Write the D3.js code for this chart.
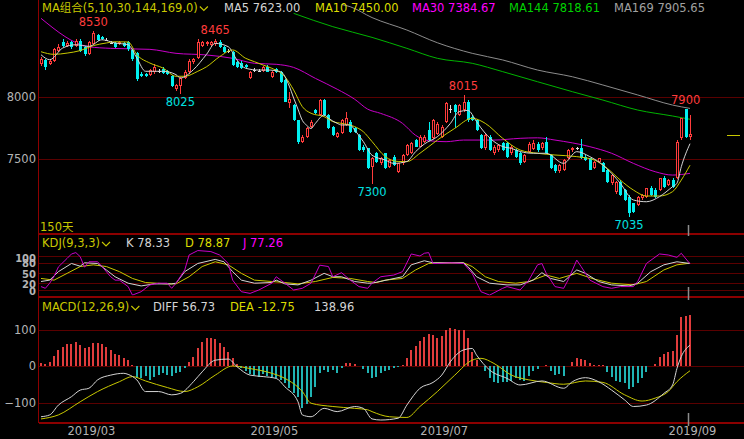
<!DOCTYPE html>
<html>
<head>
<meta charset="utf-8">
<script src="https://cdn.jsdelivr.net/npm/d3@7"></script>
<style>
  html, body { margin: 0; padding: 0; background: #000; }
  svg { display: block; }
</style>
</head>
<body>
<div id="chart"></div>
<script>
// ---------- data (150 daily bars) ----------
const opens = [8265,8295,8265,8285,8365,8440,8410,8440,8405,8450,8400,8340,8425,8492,8480,8458,8430,8430,8420,8432,
  8438,8375,8350,8185,8180,8178,8195,8208,8225,8208,8170,8060,8085,8150,8195,8280,8310,8405,8420,8415,
  8420,8440,8400,8368,8360,8280,8270,8255,8150,8212,8210,8210,8240,8160,8225,8200,8135,7947,7933,7813,
  7640,7680,7760,7893,7853,7973,7853,7760,7680,7706,7773,7800,7746,7693,7600,7586,7438,7545,7465,7545,
  7438,7518,7398,7465,7532,7545,7652,7600,7639,7733,7666,7700,7679,7800,7900,7933,7853,7890,7960,7840,
  7813,7693,7585,7680,7545,7572,7625,7625,7545,7572,7545,7479,7560,7580,7620,7585,7640,7530,7452,7400,
  7412,7505,7572,7586,7585,7519,7505,7425,7479,7465,7412,7305,7238,7318,7251,7198,7144,7131,7184,7198,
  7264,7251,7251,7345,7291,7331,7345,7666,7899,7675];
const highs = [8320,8300,8300,8390,8420,8465,8445,8450,8460,8460,8405,8450,8530,8500,8490,8470,8445,8440,8445,8440,
  8445,8380,8355,8200,8190,8225,8260,8225,8235,8215,8175,8100,8160,8215,8300,8310,8460,8450,8445,8450,
  8465,8455,8410,8385,8365,8290,8285,8265,8205,8230,8225,8250,8255,8210,8230,8210,8140,8040,7940,7815,
  7690,7760,7810,7905,7980,7985,7860,7765,7715,7820,7880,7810,7760,7700,7610,7590,7520,7555,7520,7550,
  7500,7530,7470,7540,7620,7635,7660,7690,7690,7800,7820,7800,7770,7955,7930,7945,7940,8015,7970,7850,
  7820,7700,7700,7690,7610,7620,7635,7640,7610,7580,7555,7540,7640,7650,7640,7640,7680,7540,7460,7460,
  7500,7580,7600,7600,7660,7530,7510,7485,7510,7475,7420,7380,7320,7330,7260,7210,7150,7205,7220,7270,
  7280,7270,7350,7360,7340,7345,7650,7830,7900,7850];
const lows = [8250,8215,8255,8280,8360,8400,8400,8385,8395,8360,8330,8335,8420,8445,8455,8445,8420,8390,8415,8400,
  8370,8290,8130,8160,8160,8170,8185,8190,8185,8175,8080,8045,8025,8140,8185,8260,8300,8395,8410,8410,
  8410,8390,8350,8350,8250,8230,8220,8230,8140,8200,8200,8200,8195,8150,8190,8110,7955,7907,7805,7620,
  7625,7670,7750,7860,7845,7845,7740,7685,7670,7700,7765,7710,7710,7565,7560,7420,7300,7465,7455,7420,
  7430,7440,7390,7455,7525,7540,7595,7595,7630,7645,7660,7690,7670,7790,7870,7750,7845,7880,7800,7805,
  7725,7580,7575,7565,7535,7560,7565,7510,7535,7510,7455,7470,7550,7570,7560,7575,7540,7420,7390,7390,
  7400,7500,7560,7570,7500,7485,7410,7420,7470,7395,7310,7290,7220,7200,7160,7035,7070,7120,7170,7190,
  7200,7190,7240,7270,7285,7270,7340,7650,7670,7650];
const closes = [8305,8240,8290,8380,8400,8405,8430,8395,8445,8370,8340,8440,8510,8455,8460,8458,8430,8398,8435,8405,
  8380,8300,8140,8168,8165,8215,8240,8208,8192,8180,8085,8095,8150,8200,8290,8300,8440,8440,8435,8440,
  8450,8400,8360,8368,8255,8240,8230,8240,8200,8212,8210,8235,8200,8200,8200,8120,7960,7980,7813,7640,
  7680,7745,7800,7867,7973,7853,7746,7693,7706,7813,7826,7720,7720,7572,7572,7430,7505,7473,7505,7425,
  7490,7452,7465,7532,7612,7625,7600,7680,7679,7652,7813,7780,7760,7947,7900,7880,7933,7960,7813,7813,
  7733,7585,7693,7572,7600,7612,7572,7518,7600,7518,7465,7532,7620,7630,7572,7626,7546,7425,7400,7452,
  7492,7572,7586,7586,7505,7492,7412,7479,7505,7398,7318,7372,7318,7211,7171,7064,7077,7198,7211,7264,
  7211,7198,7345,7278,7331,7278,7640,7826,7679,7700];

// moving averages, [bar index, value]
const ma5 = [[0,8337],[2,8297],[5,8391],[8,8417],[11,8404],[14,8457],[17,8431],[20,8417],[22,8310],[24,8204],
  [26,8204],[28,8204],[31,8177],[32,8150],[35,8217],[38,8340],[40,8428],[43,8401],[45,8294],[47,8228],
  [50,8214],[52,8214],[55,8201],[57,8085],[58,7990],[59,7900],[60,7810],[61,7770],[62,7745],[63,7786],
  [65,7853],[66,7827],[68,7786],[69,7773],[71,7773],[72,7733],[74,7640],[76,7530],[79,7492],[81,7465],
  [84,7480],[86,7559],[88,7620],[91,7679],[94,7786],[96,7880],[98,7890],[100,7800],[101,7750],[104,7640],
  [106,7600],[108,7585],[110,7560],[113,7546],[116,7546],[120,7465],[123,7559],[126,7519],[129,7452],[133,7305],
  [136,7171],[139,7157],[142,7198],[145,7278],[146,7305],[147,7438],[149,7623]];
const ma10 = [[0,8361],[3,8340],[6,8350],[9,8370],[12,8410],[15,8431],[17,8441],[20,8439],[22,8337],[25,8270],
  [28,8230],[31,8164],[33,8164],[36,8204],[38,8240],[41,8321],[44,8375],[47,8308],[49,8281],[51,8254],
  [53,8228],[56,8161],[58,8054],[60,7920],[62,7867],[65,7840],[67,7800],[69,7786],[72,7760],[74,7719],
  [76,7640],[79,7520],[82,7480],[84,7479],[87,7546],[91,7652],[95,7746],[99,7827],[102,7786],[106,7666],
  [110,7572],[114,7546],[118,7532],[123,7519],[127,7492],[130,7425],[133,7331],[136,7251],[139,7203],[142,7203],
  [145,7238],[147,7331],[149,7450]];
const ma30 = [[0,8629],[11,8401],[16,8388],[25,8380],[31,8348],[38,8335],[44,8308],[49,8268],[54,8260],[58,8235],
  [63,8147],[68,8060],[72,7980],[75,7900],[78,7866],[83,7786],[86,7690],[89,7647],[93,7639],[97,7652],
  [104,7652],[110,7666],[114,7670],[118,7652],[126,7599],[131,7546],[136,7465],[141,7398],[145,7371],[149,7385]];
const ma144 = [[58,8669],[67,8562],[76,8476],[84,8388],[91,8308],[99,8268],[106,8201],[114,8120],[122,8040],
  [129,7973],[137,7893],[145,7845],[149,7819]];
const ma169 = [[69,8740],[71,8722],[76,8635],[84,8535],[91,8433],[99,8348],[106,8295],[114,8214],[122,8160],
  [129,8094],[137,8014],[145,7933],[149,7906]];

// KDJ(9,3,3)
const kLine = [[0,25],[2,29],[4,54],[7,78],[9,70],[10,80],[13,78],[15,59],[17,39],[20,20],[23,12],[26,18],[30,18],
  [31,20],[33,54],[36,78],[40,90],[42,83],[44,54],[46,29],[49,20],[53,22],[54,29],[56,18],[59,15],[62,29],
  [65,49],[67,39],[69,39],[72,25],[75,20],[76,20],[80,31],[83,39],[85,74],[88,86],[90,80],[97,80],[98,69],
  [100,39],[103,20],[107,15],[110,15],[113,29],[115,51],[117,34],[120,25],[123,59],[125,49],[128,25],[131,15],
  [135,12],[137,20],[140,54],[143,74],[146,83],[149,78]];
const dLine = [[0,34],[3,29],[6,49],[9,69],[12,74],[15,69],[18,54],[21,34],[24,22],[29,18],[31,18],[34,39],[37,69],
  [40,83],[43,74],[46,49],[49,29],[53,25],[56,22],[59,18],[63,25],[67,37],[71,34],[75,25],[77,22],[79,29],
  [83,34],[86,59],[89,78],[91,80],[97,80],[99,69],[102,39],[105,25],[109,20],[112,25],[116,44],[119,34],
  [123,49],[127,32],[131,20],[136,15],[139,25],[143,59],[146,74],[149,79]];
const jLine = [[0,10],[1,5],[2,20],[3,40],[4,68],[6,93],[7,106],[8,110],[9,98],[10,67],[11,83],[13,83],[14,69],
  [16,39],[17,29],[18,29],[20,10],[21,-15],[23,-5],[25,15],[27,20],[29,20],[30,5],[31,20],[33,59],[34,103],
  [36,116],[39,113],[41,103],[43,78],[44,29],[46,-5],[48,-10],[50,0],[53,20],[54,39],[56,20],[58,0],[60,5],
  [62,20],[64,73],[66,69],[67,39],[69,51],[71,29],[73,10],[75,5],[76,20],[78,39],[81,44],[83,54],[85,106],
  [87,100],[88,108],[89,110],[90,78],[91,78],[94,80],[97,78],[99,49],[101,-5],[103,-15],[106,5],[107,10],
  [110,0],[112,29],[114,74],[115,78],[116,49],[118,10],[120,5],[121,29],[123,88],[124,69],[126,29],[129,10],
  [131,5],[133,10],[136,10],[137,25],[139,78],[142,106],[144,103],[146,96],[147,108],[149,77]];

// MACD(12,26,9): histogram per bar, DIFF / DEA as [index, value]
const macdHist = [9,5,12,28,44,51,59,59,66,57,48,53,62,62,59,53,44,32,30,23,16,2,
  -32,-34,-28,-38,-29,-25,-20,-25,-27,-20,-16,-5,
  12,26,48,66,76,78,74,62,53,39,21,5,
  -5,-14,-23,-25,-29,-23,-27,-29,-34,-38,-47,-61,-75,-84,-116,-105,-84,-57,-20,-11,-16,-11,-20,-5,
  9,7,5,0,-8,-20,
  -34,-29,-20,-14,-11,-5,-2,
  3,23,44,55,69,80,89,85,78,83,100,105,101,98,98,78,39,16,0,
  -14,-34,-45,-47,-45,-45,-41,-34,-38,-41,-27,-14,-8,
  0,2,-14,-25,-23,-27,0,
  12,23,18,16,7,3,3,3,
  -17,-29,-41,-45,-47,-63,-57,-47,-34,-17,0,
  5,26,32,39,41,85,135,138,139];
const diffLine = [[0,-139],[2,-134],[4,-107],[7,-84],[9,-66],[11,-61],[13,-38],[16,-25],[19,-20],[20,-23],[22,-38],
  [24,-70],[27,-70],[30,-79],[32,-75],[35,-43],[37,-16],[40,16],[43,19],[45,-2],[48,-25],[51,-29],[54,-34],
  [56,-57],[59,-98],[60,-134],[62,-139],[65,-116],[68,-125],[72,-111],[74,-116],[76,-145],[78,-148],[82,-143],
  [84,-107],[87,-61],[90,-45],[92,-25],[94,12],[97,44],[99,48],[100,30],[103,-11],[107,-34],[110,-52],
  [115,-41],[120,-61],[122,-43],[125,-32],[128,-43],[131,-66],[134,-93],[136,-111],[139,-107],[143,-75],
  [145,-52],[146,-7],[147,26],[149,57]];
const deaLine = [[0,-145],[4,-134],[9,-98],[13,-70],[18,-43],[21,-29],[24,-41],[29,-59],[33,-70],[36,-57],[40,-25],
  [44,0],[48,-7],[53,-20],[56,-34],[60,-70],[62,-102],[67,-111],[72,-116],[75,-120],[76,-125],[80,-139],
  [84,-141],[87,-111],[91,-70],[95,-25],[99,16],[101,21],[104,7],[108,-25],[112,-38],[116,-45],[120,-50],
  [125,-41],[129,-45],[134,-79],[138,-96],[141,-88],[144,-70],[146,-43],[149,-13]];

// ticks / labels
const mainTicks = [7500, 8000];
const kdjTicks = [0, 20, 50, 80, 100];
const macdTicks = [-100, 0, 100];
const monthIdx = [11, 53, 92, 149];
const monthLabels = ["2019/03", "2019/05", "2019/07", "2019/09"];
const highMarks = [12, 40, 97, 148];   // bars whose high is labelled
const lowMarks = [32, 76, 135];        // bars whose low is labelled
const refPrice = 7692;                 // small yellow marker at the right edge

// ---------- layout ----------
const W = 744, H = 439;
const left = 39, right = 744;
const mainBottom = 233.5, kdjBottom = 296.5, macdBottom = 422.5;
const FONT = "'DejaVu Sans', 'Noto Sans CJK SC', sans-serif";
const RED = "#ff3c3c", CYAN = "#00f0f0", YEL = "#c8c800", LGRAY = "#d4d4d4", MAG = "#c800c8";

const svg = d3.select("#chart").append("svg")
    .attr("width", W).attr("height", H)
    .style("background", "#000")
    .attr("font-family", FONT);

const x = d3.scaleLinear().domain([0, closes.length - 1]).range([41, 690]);
const yMain = d3.scaleLinear().domain([7500, 8000]).range([159, 96.7]);
const yKdj = d3.scaleLinear().domain([0, 100]).range([290, 256]);
const yMacd = d3.scaleLinear().domain([-100, 100]).range([402.5, 329.5]);

// clip paths per panel
const defs = svg.append("defs");
function clip(id, y0, y1) {
    defs.append("clipPath").attr("id", id).append("rect")
        .attr("x", left).attr("y", y0).attr("width", right - left).attr("height", y1 - y0);
}
clip("cMain", 0, mainBottom - 1);
clip("cKdj", mainBottom + 1, kdjBottom - 1);
clip("cMacd", kdjBottom + 1, macdBottom - 1);

// grid + left labels through d3 axes
function gridAxis(scale, ticks, fontSize, fmt) {
    const g = svg.append("g")
        .attr("transform", `translate(${left},0)`)
        .call(d3.axisLeft(scale).tickValues(ticks).tickSize(-(right - left)).tickPadding(3).tickFormat(fmt || d3.format("d")));
    g.select(".domain").remove();
    g.selectAll(".tick line").attr("stroke", "#5a0000").attr("shape-rendering", "crispEdges");
    g.selectAll(".tick text").attr("fill", "#b4b4b4").attr("font-size", fontSize).attr("font-family", FONT);
    return g;
}
gridAxis(yMain, mainTicks, 11.5);
const kg = gridAxis(yKdj, kdjTicks, 10);
kg.selectAll(".tick text").attr("font-weight", "bold").attr("dy", (d) => d === 100 ? "0.55em" : "0.4em");
gridAxis(yMacd, macdTicks, 11.5);

// panel frame lines
const frame = svg.append("g").attr("stroke", "#8c0000").attr("shape-rendering", "crispEdges");
[mainBottom, kdjBottom, macdBottom].forEach((yy) => {
    frame.append("line").attr("x1", left).attr("x2", right).attr("y1", yy).attr("y2", yy).attr("stroke-width", 2);
});
frame.append("line").attr("x1", left - 0.5).attr("x2", left - 0.5).attr("y1", 0).attr("y2", macdBottom);

// ---------- main panel ----------
const mainG = svg.append("g").attr("clip-path", "url(#cMain)");

const lineGen = (yScale, curve) => d3.line()
    .x((d) => x(d[0]))
    .y((d) => yScale(d[1]))
    .curve(curve || d3.curveLinear);

const maStyles = [
    [ma169, "#8c8c8c", d3.curveMonotoneX],
    [ma144, "#00b400", d3.curveMonotoneX],
    [ma30, MAG, d3.curveMonotoneX],
];
maStyles.forEach(([data, color, curve]) => {
    mainG.append("path").datum(data)
        .attr("fill", "none").attr("stroke", color).attr("stroke-width", 1)
        .attr("d", lineGen(yMain, curve));
});

// candles
const bars = d3.range(closes.length).map((i) => ({ i, o: opens[i], h: highs[i], l: lows[i], c: closes[i] }));
const cg = mainG.append("g").attr("shape-rendering", "crispEdges");
const colorOf = (d) => d.c > d.o ? RED : (d.c < d.o ? CYAN : "#e0e0e0");

cg.selectAll(".wick").data(bars).join("line")
    .attr("x1", (d) => Math.round(x(d.i)) + 0.5)
    .attr("x2", (d) => Math.round(x(d.i)) + 0.5)
    .attr("y1", (d) => yMain(d.h))
    .attr("y2", (d) => yMain(d.l))
    .attr("stroke", colorOf);

// rising bars: hollow red
cg.selectAll(".up").data(bars.filter((d) => d.c > d.o)).join("rect")
    .attr("x", (d) => Math.round(x(d.i)) - 0.5)
    .attr("width", 2)
    .attr("y", (d) => Math.round(yMain(d.c)) + 0.5)
    .attr("height", (d) => Math.max(1, Math.round(yMain(d.o)) - Math.round(yMain(d.c)) - 1))
    .attr("fill", "#000").attr("stroke", RED);

// falling bars: filled cyan
cg.selectAll(".down").data(bars.filter((d) => d.c < d.o)).join("rect")
    .attr("x", (d) => Math.round(x(d.i)) - 1)
    .attr("width", 3)
    .attr("y", (d) => Math.round(yMain(d.o)))
    .attr("height", (d) => Math.max(1, Math.round(yMain(d.c)) - Math.round(yMain(d.o))))
    .attr("fill", CYAN);

// flat bars
cg.selectAll(".flat").data(bars.filter((d) => d.c === d.o)).join("rect")
    .attr("x", (d) => Math.round(x(d.i)) - 1)
    .attr("width", 3)
    .attr("y", (d) => Math.round(yMain(d.c)))
    .attr("height", 1)
    .attr("fill", "#e0e0e0");

// short averages on top of the candles
[[ma10, YEL], [ma5, LGRAY]].forEach(([data, color]) => {
    mainG.append("path").datum(data)
        .attr("fill", "none").attr("stroke", color).attr("stroke-width", 1)
        .attr("d", lineGen(yMain, d3.curveMonotoneX));
});

// high / low labels
const markG = svg.append("g").attr("font-size", 11.5).attr("text-anchor", "middle");
highMarks.forEach((i) => {
    markG.append("text").attr("x", x(i)).attr("y", yMain(highs[i]) - 5)
        .attr("fill", RED).text(highs[i]);
});
lowMarks.forEach((i) => {
    markG.append("text").attr("x", x(i)).attr("y", yMain(lows[i]) + 12.5)
        .attr("fill", "#00e0e0").text(lows[i]);
});

// right edge marker + cursor ticks at the last bar
svg.append("line")
    .attr("x1", 727).attr("x2", 740)
    .attr("y1", Math.round(yMain(refPrice)) + 0.5).attr("y2", Math.round(yMain(refPrice)) + 0.5)
    .attr("stroke", YEL);
const cx = Math.round(x(closes.length - 1)) - 1.5;
[[225, 236], [287, 300], [413, 426]].forEach(([a, b]) => {
    svg.append("line").attr("x1", cx).attr("x2", cx).attr("y1", a).attr("y2", b)
        .attr("stroke", "#8c8c8c").attr("stroke-width", 1.5);
});

// ---------- KDJ ----------
const kdjG = svg.append("g").attr("clip-path", "url(#cKdj)");
[[dLine, YEL], [kLine, LGRAY], [jLine, MAG]].forEach(([data, color]) => {
    kdjG.append("path").datum(data)
        .attr("fill", "none").attr("stroke", color).attr("stroke-width", 1)
        .attr("d", lineGen(yKdj));
});

// ---------- MACD ----------
const macdG = svg.append("g").attr("clip-path", "url(#cMacd)");
macdG.append("g").attr("shape-rendering", "crispEdges")
    .selectAll("rect").data(macdHist.map((v, i) => ({ i, v }))).join("rect")
    .attr("x", (d) => Math.round(x(d.i)) - 1)
    .attr("width", 2)
    .attr("y", (d) => Math.min(yMacd(0), yMacd(d.v)))
    .attr("height", (d) => Math.abs(yMacd(d.v) - yMacd(0)))
    .attr("fill", (d) => d.v >= 0 ? "#e03c3c" : "#20b4b4");
[[deaLine, YEL], [diffLine, LGRAY]].forEach(([data, color]) => {
    macdG.append("path").datum(data)
        .attr("fill", "none").attr("stroke", color).attr("stroke-width", 1)
        .attr("d", lineGen(yMacd, d3.curveMonotoneX));
});

// ---------- x axis (month labels) ----------
const xa = svg.append("g")
    .attr("transform", `translate(2,${macdBottom})`)
    .call(d3.axisBottom(x).tickValues(monthIdx).tickSize(0).tickPadding(4.5)
        .tickFormat((d, k) => monthLabels[k]));
xa.select(".domain").remove();
xa.selectAll("text").attr("fill", "#b4b4b4").attr("font-size", 11.5).attr("font-family", FONT);

// ---------- titles ----------
function chevron(g, xPos, yBase, color) {
    g.append("path")
        .attr("d", `M${xPos},${yBase - 5} L${xPos + 4},${yBase - 1} L${xPos + 8},${yBase - 5}`)
        .attr("fill", "none").attr("stroke", color).attr("stroke-width", 1.1);
}
function titleRow(yBase, items) {
    const g = svg.append("g").attr("font-size", 11.5);
    items.forEach(([tx, str, color, chev]) => {
        const t = g.append("text").attr("x", tx).attr("y", yBase).attr("fill", color).text(str);
        if (chev) chevron(g, tx + t.node().getComputedTextLength() + 2, yBase, color);
    });
}
titleRow(11.5, [
    [42, "MA组合(5,10,30,144,169,0)", YEL, true],
    [224, "MA5 7623.00", LGRAY],
    [315, "MA10 7450.00", "#dcdc00"],
    [412, "MA30 7384.67", "#ff00ff"],
    [509, "MA144 7818.61", "#00d200"],
    [614, "MA169 7905.65", "#a0a0a0"],
]);
titleRow(247, [
    [42, "KDJ(9,3,3)", YEL, true],
    [126, "K 78.33", LGRAY],
    [185, "D 78.87", "#dcdc00"],
    [243, "J 77.26", "#ff00ff"],
]);
titleRow(311, [
    [42, "MACD(12,26,9)", YEL, true],
    [153, "DIFF 56.73", LGRAY],
    [230, "DEA -12.75", "#dcdc00"],
    [314, "138.96", LGRAY],
]);
svg.append("text").attr("x", 40).attr("y", 230.5).attr("font-size", 11.5)
    .attr("fill", YEL).text("150天");
</script>
</body>
</html>
